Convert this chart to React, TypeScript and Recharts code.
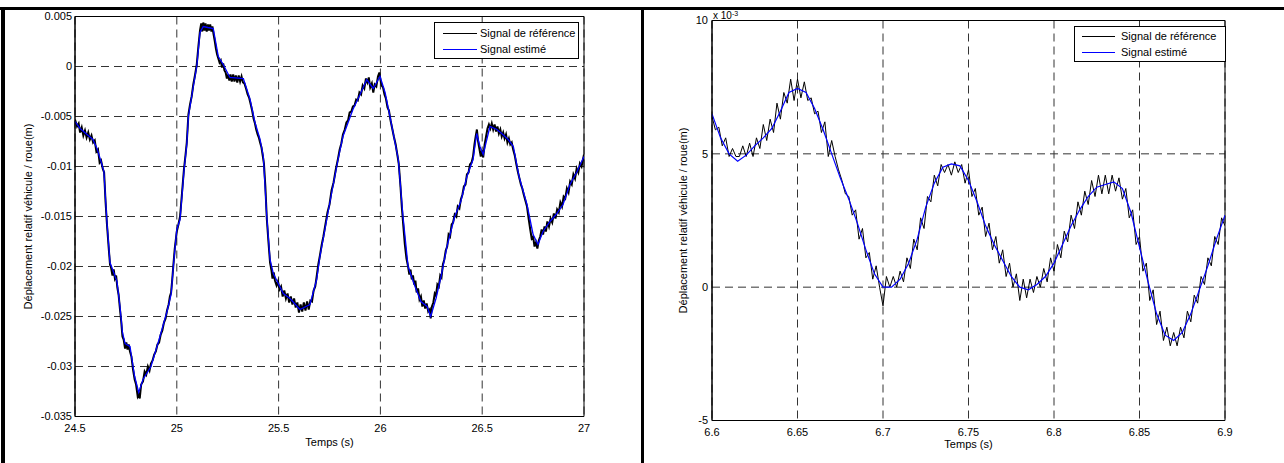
import React from 'react';
import { LineChart, Line, XAxis, YAxis, CartesianGrid, ReferenceArea, Legend } from 'recharts';

const FONT = '"Liberation Sans", Arial, Helvetica, sans-serif';

// axis ticks
const leftXTicks = [24.5, 25, 25.5, 26, 26.5, 27];
const leftYTicks = [-0.035, -0.03, -0.025, -0.02, -0.015, -0.01, -0.005, 0, 0.005];
const rightXTicks = [6.6, 6.65, 6.7, 6.75, 6.8, 6.85, 6.9];
const rightYTicks = [-5, 0, 5, 10];

const seriesNames = ['Signal de référence', 'Signal estimé'];

// left panel: [time (s), displacement (m)]
const leftEstimated: [number, number][] = [
  [24.5, -0.0055], [24.525, -0.0062], [24.559, -0.0068], [24.588, -0.0073], [24.608, -0.0082],
  [24.628, -0.0095], [24.642, -0.0105], [24.657, -0.0156], [24.672, -0.0196], [24.692, -0.0207],
  [24.706, -0.0215], [24.721, -0.024], [24.733, -0.0266], [24.746, -0.0277], [24.77, -0.028],
  [24.793, -0.031], [24.813, -0.0326], [24.834, -0.0313], [24.873, -0.03], [24.913, -0.0273],
  [24.952, -0.0245], [24.972, -0.0228], [24.983, -0.02], [25.0, -0.0163], [25.016, -0.0153],
  [25.035, -0.0105], [25.049, -0.0078], [25.057, -0.005], [25.081, -0.002], [25.098, 0.0],
  [25.114, 0.0034], [25.13, 0.004], [25.153, 0.0039], [25.179, 0.0038], [25.204, 0.001],
  [25.228, 0.0002], [25.261, -0.0011], [25.327, -0.0012], [25.36, -0.0033], [25.384, -0.0056],
  [25.409, -0.0073], [25.425, -0.009], [25.442, -0.015], [25.458, -0.0193], [25.474, -0.0207],
  [25.523, -0.0227], [25.556, -0.0232], [25.605, -0.0243], [25.654, -0.0238], [25.687, -0.0213],
  [25.703, -0.019], [25.748, -0.014], [25.792, -0.0093], [25.816, -0.007], [25.865, -0.0043],
  [25.9, -0.0028], [25.933, -0.0013], [25.965, -0.0022], [25.998, -0.001], [26.023, -0.0026],
  [26.047, -0.005], [26.088, -0.0093], [26.111, -0.015], [26.136, -0.02], [26.17, -0.022],
  [26.199, -0.0235], [26.229, -0.024], [26.247, -0.025], [26.273, -0.0232], [26.298, -0.021],
  [26.327, -0.018], [26.365, -0.015], [26.395, -0.0135], [26.425, -0.011], [26.455, -0.0093],
  [26.473, -0.0067], [26.489, -0.008], [26.505, -0.0088], [26.538, -0.006], [26.572, -0.0063],
  [26.596, -0.0067], [26.628, -0.0073], [26.653, -0.008], [26.681, -0.011], [26.72, -0.0138],
  [26.75, -0.0168], [26.774, -0.0178], [26.799, -0.0165], [26.833, -0.0155], [26.863, -0.0148],
  [26.897, -0.0138], [26.931, -0.0118], [26.966, -0.0105], [27.0, -0.009],
];

const leftReference: [number, number][] = [
  [24.5, -0.0053], [24.51, -0.006], [24.518, -0.0057], [24.525, -0.0066], [24.533, -0.0061],
  [24.541, -0.0069], [24.549, -0.0064], [24.557, -0.0071], [24.565, -0.0066], [24.573, -0.0073],
  [24.581, -0.0069], [24.589, -0.0076], [24.597, -0.0074], [24.605, -0.0085], [24.613, -0.0083],
  [24.621, -0.0096], [24.628, -0.0094], [24.636, -0.0102], [24.643, -0.0106], [24.65, -0.0135],
  [24.657, -0.0158], [24.665, -0.018], [24.672, -0.0198], [24.678, -0.0202], [24.684, -0.0209],
  [24.69, -0.0203], [24.696, -0.0212], [24.702, -0.0209], [24.708, -0.0221], [24.714, -0.0228],
  [24.721, -0.0243], [24.727, -0.0255], [24.733, -0.027], [24.739, -0.0273], [24.746, -0.0282],
  [24.752, -0.0276], [24.758, -0.0283], [24.764, -0.0278], [24.77, -0.0285], [24.777, -0.029],
  [24.785, -0.0303], [24.793, -0.0313], [24.8, -0.0318], [24.808, -0.033], [24.813, -0.0328],
  [24.818, -0.0332], [24.825, -0.0318], [24.834, -0.0315], [24.842, -0.0305], [24.85, -0.0308],
  [24.858, -0.03], [24.866, -0.0304], [24.873, -0.0297], [24.881, -0.0294], [24.889, -0.0288],
  [24.897, -0.0285], [24.905, -0.0278], [24.913, -0.0276], [24.921, -0.0268], [24.929, -0.0264],
  [24.937, -0.0256], [24.945, -0.0252], [24.952, -0.0244], [24.96, -0.0238], [24.966, -0.023],
  [24.972, -0.0226], [24.978, -0.0212], [24.983, -0.0199], [24.99, -0.0182], [25.0, -0.0165],
  [25.008, -0.0158], [25.016, -0.015], [25.025, -0.0128], [25.035, -0.0103], [25.042, -0.009],
  [25.049, -0.0076], [25.057, -0.0048], [25.065, -0.0038], [25.073, -0.003], [25.081, -0.0018],
  [25.09, -0.0008], [25.098, 0.0002], [25.106, 0.002], [25.114, 0.0036], [25.12, 0.0043],
  [25.125, 0.0035], [25.13, 0.0044], [25.136, 0.0036], [25.141, 0.0043], [25.147, 0.0035],
  [25.153, 0.0042], [25.158, 0.0036], [25.164, 0.0042], [25.17, 0.0035], [25.175, 0.004],
  [25.18, 0.0033], [25.186, 0.0026], [25.192, 0.0018], [25.198, 0.0012], [25.204, 0.0008],
  [25.21, 0.0004], [25.216, 0.0006], [25.222, -0.0001], [25.228, 0.0003], [25.234, -0.0004],
  [25.24, -0.0006], [25.246, -0.0012], [25.252, -0.0008], [25.258, -0.0014], [25.264, -0.0008],
  [25.27, -0.0015], [25.277, -0.0008], [25.283, -0.0015], [25.29, -0.0009], [25.297, -0.0016],
  [25.304, -0.0009], [25.311, -0.0015], [25.318, -0.001], [25.325, -0.0016], [25.332, -0.0017],
  [25.34, -0.0022], [25.348, -0.0028], [25.355, -0.0031], [25.362, -0.0037], [25.37, -0.0044],
  [25.377, -0.0052], [25.384, -0.0057], [25.39, -0.0063], [25.397, -0.0068], [25.403, -0.0071],
  [25.409, -0.0076], [25.416, -0.0081], [25.422, -0.0089], [25.428, -0.0097], [25.435, -0.012],
  [25.442, -0.0152], [25.45, -0.0175], [25.458, -0.0196], [25.465, -0.0204], [25.47, -0.0212],
  [25.476, -0.0206], [25.482, -0.0214], [25.49, -0.0219], [25.497, -0.0215], [25.504, -0.0223],
  [25.512, -0.022], [25.52, -0.023], [25.528, -0.0224], [25.536, -0.0232], [25.544, -0.0227],
  [25.552, -0.0236], [25.56, -0.023], [25.568, -0.0238], [25.576, -0.0232], [25.584, -0.0241],
  [25.592, -0.0236], [25.6, -0.0246], [25.608, -0.0238], [25.616, -0.0245], [25.624, -0.0236],
  [25.632, -0.0244], [25.64, -0.0235], [25.648, -0.0243], [25.656, -0.0234], [25.664, -0.0235],
  [25.672, -0.0224], [25.68, -0.022], [25.687, -0.021], [25.695, -0.0198], [25.703, -0.0189],
  [25.712, -0.0178], [25.72, -0.017], [25.73, -0.0158], [25.74, -0.0146], [25.75, -0.0138],
  [25.76, -0.0124], [25.77, -0.0116], [25.78, -0.0104], [25.792, -0.0092], [25.8, -0.0083],
  [25.808, -0.0077], [25.816, -0.0068], [25.825, -0.0063], [25.833, -0.0056], [25.841, -0.0054],
  [25.849, -0.0046], [25.857, -0.0045], [25.865, -0.004], [25.873, -0.0039], [25.881, -0.0033],
  [25.889, -0.0034], [25.897, -0.0026], [25.905, -0.0028], [25.913, -0.0019], [25.921, -0.0022],
  [25.929, -0.0012], [25.936, -0.0016], [25.943, -0.0011], [25.95, -0.0021], [25.958, -0.0017],
  [25.965, -0.0026], [25.972, -0.0018], [25.98, -0.002], [25.988, -0.001], [25.995, -0.0006],
  [26.0, -0.0013], [26.006, -0.0019], [26.013, -0.0021], [26.02, -0.0028], [26.027, -0.0032],
  [26.035, -0.0041], [26.042, -0.0044], [26.05, -0.0054], [26.058, -0.0062], [26.066, -0.007],
  [26.075, -0.0078], [26.083, -0.0088], [26.09, -0.0097], [26.098, -0.0118], [26.105, -0.014],
  [26.112, -0.0158], [26.12, -0.0178], [26.128, -0.0192], [26.136, -0.02], [26.142, -0.0208],
  [26.148, -0.0203], [26.154, -0.0213], [26.16, -0.0209], [26.166, -0.0218], [26.172, -0.0214],
  [26.178, -0.0226], [26.185, -0.0222], [26.192, -0.0233], [26.199, -0.023], [26.206, -0.024],
  [26.213, -0.0234], [26.22, -0.0242], [26.227, -0.0237], [26.235, -0.0245], [26.242, -0.0243],
  [26.247, -0.0252], [26.253, -0.024], [26.26, -0.0236], [26.267, -0.0227], [26.273, -0.0229],
  [26.28, -0.0218], [26.287, -0.022], [26.294, -0.0209], [26.3, -0.0211], [26.307, -0.0198],
  [26.314, -0.0193], [26.321, -0.0184], [26.328, -0.018], [26.335, -0.0168], [26.342, -0.017],
  [26.35, -0.0158], [26.357, -0.0156], [26.365, -0.0148], [26.373, -0.015], [26.38, -0.014],
  [26.388, -0.0142], [26.395, -0.0133], [26.403, -0.0128], [26.41, -0.012], [26.418, -0.0118],
  [26.425, -0.0108], [26.433, -0.0106], [26.44, -0.0098], [26.448, -0.0096], [26.455, -0.009],
  [26.462, -0.0078], [26.468, -0.007], [26.474, -0.0063], [26.48, -0.0075], [26.486, -0.0082],
  [26.493, -0.009], [26.499, -0.0084], [26.505, -0.0091], [26.512, -0.0078], [26.519, -0.007],
  [26.526, -0.0062], [26.533, -0.0058], [26.54, -0.0062], [26.547, -0.0057], [26.554, -0.0063],
  [26.561, -0.0058], [26.568, -0.0065], [26.575, -0.006], [26.582, -0.0067], [26.589, -0.0063],
  [26.596, -0.007], [26.603, -0.0066], [26.61, -0.0072], [26.617, -0.0068], [26.624, -0.0076],
  [26.631, -0.0072], [26.638, -0.0078], [26.645, -0.0076], [26.652, -0.0083], [26.66, -0.0089],
  [26.668, -0.0098], [26.676, -0.0106], [26.683, -0.0112], [26.69, -0.0118], [26.697, -0.0122],
  [26.704, -0.0128], [26.712, -0.0134], [26.72, -0.014], [26.728, -0.0152], [26.736, -0.0163],
  [26.743, -0.0172], [26.75, -0.017], [26.757, -0.018], [26.764, -0.0176], [26.771, -0.0182],
  [26.778, -0.0174], [26.785, -0.017], [26.792, -0.0163], [26.799, -0.0168], [26.806, -0.016],
  [26.813, -0.0165], [26.82, -0.0155], [26.828, -0.016], [26.836, -0.0152], [26.844, -0.0156],
  [26.852, -0.0147], [26.86, -0.0152], [26.868, -0.0143], [26.876, -0.0146], [26.884, -0.0136],
  [26.892, -0.014], [26.9, -0.013], [26.908, -0.0132], [26.916, -0.0122], [26.924, -0.0126],
  [26.932, -0.0115], [26.94, -0.0118], [26.948, -0.0108], [26.956, -0.0112], [26.964, -0.0102],
  [26.972, -0.0106], [26.98, -0.0097], [26.988, -0.01], [27.0, -0.0088],
];

// right panel: values in units of 1e-3 m, sampled on a regular clock
const rightRefStart = 6.6;
const rightRefStep = 0.002;
const rightReference = [
  6.4, 5.9, 6.0, 5.3, 5.6, 4.9, 5.2, 4.9, 4.9, 5.3,
  4.9, 5.4, 4.9, 5.6, 5.2, 6.1, 5.5, 6.3, 5.8, 6.9,
  6.3, 7.3, 6.9, 7.8, 7.0, 7.8, 7.1, 7.7, 7.0, 7.1,
  6.5, 6.6, 5.8, 6.2, 4.9, 5.5, 4.9, 4.4, 4.0, 3.5,
  3.4, 2.7, 2.9, 1.8, 2.2, 1.1, 1.3, 0.3, 0.8, 0.0,
  -0.7, 0.4, 0.0, 0.4, 0.0, 0.6, 0.2, 1.1, 0.7, 1.8,
  1.4, 2.6, 2.2, 3.4, 3.2, 4.2, 3.8, 4.6, 4.3, 4.6,
  4.2, 4.7, 4.3, 4.6, 3.9, 4.4, 3.4, 3.7, 2.7, 3.0,
  1.9, 2.4, 1.4, 1.9, 0.9, 1.4, 0.4, 0.9, 0.0, 0.5,
  -0.5, 0.3, -0.4, 0.3, -0.2, 0.4, 0.0, 0.7, 0.2, 1.1,
  0.6, 1.6, 1.1, 2.1, 1.7, 2.7, 2.2, 3.2, 2.7, 3.6,
  3.1, 4.0, 3.4, 4.2, 3.5, 4.2, 3.5, 4.2, 3.6, 4.1,
  3.3, 3.7, 2.6, 2.9, 1.6, 1.9, 0.6, 0.9, -0.5, -0.1,
  -1.4, -0.9, -2.0, -1.5, -2.2, -1.7, -2.2, -1.5, -1.9, -0.9,
  -1.3, -0.3, -0.6, 0.4, 0.1, 1.1, 0.8, 1.9, 1.6, 2.6,
  2.3,
];

const rightEstStart = 6.6;
const rightEstStep = 0.005;
const rightEstimated = [
  6.5, 5.6, 5.0, 4.72, 4.95, 5.3, 5.6, 5.95, 6.6, 7.3,
  7.45, 7.3, 6.7, 5.9, 5.0, 4.1, 3.3, 2.4, 1.4, 0.5,
  0.0, 0.0, 0.3, 0.9, 1.8, 3.0, 3.9, 4.5, 4.62, 4.55,
  4.0, 3.2, 2.3, 1.6, 1.0, 0.4, 0.0, -0.1, 0.1, 0.4,
  0.9, 1.6, 2.3, 2.9, 3.4, 3.75, 3.85, 3.95, 3.7, 2.8,
  1.5, 0.2, -1.0, -1.8, -2.0, -1.7, -1.0, -0.1, 0.8, 1.8,
  2.7,
];

const toPoints = (pairs: [number, number][]) => pairs.map(([t, v]) => ({ t, v }));
const sampled = (start: number, step: number, values: number[]) =>
  values.map((v, i) => ({ t: +(start + i * step).toFixed(4), v }));

const leftRefData = toPoints(leftReference);
const leftEstData = toPoints(leftEstimated);
const rightRefData = sampled(rightRefStart, rightRefStep, rightReference);
const rightEstData = sampled(rightEstStart, rightEstStep, rightEstimated);

const tickStyle = { fill: '#000', fontSize: 11, fontFamily: FONT };
const labelStyle = { fill: '#000', fontSize: 11, fontFamily: FONT, textAnchor: 'middle' as const };

function LegendBox(props: any) {
  const { payload = [], width, height, rowTop, rowGap, lineLeft, lineWidth, textLeft } = props;
  return (
    <div
      style={{
        position: 'relative',
        width,
        height,
        boxSizing: 'border-box',
        border: '1px solid #000',
        background: '#fff',
        fontFamily: FONT,
        fontSize: 11,
        color: '#000',
      }}
    >
      {payload.map((item: any, i: number) => (
        <div key={item.value}>
          <div
            style={{
              position: 'absolute',
              left: lineLeft,
              top: rowTop + i * rowGap - 1,
              width: lineWidth,
              height: 1,
              background: item.color,
            }}
          />
          <div
            style={{
              position: 'absolute',
              left: textLeft,
              top: rowTop + i * rowGap - 7,
              lineHeight: '13px',
              whiteSpace: 'nowrap',
            }}
          >
            {item.value}
          </div>
        </div>
      ))}
    </div>
  );
}

function LeftPanel() {
  return (
    <LineChart width={640} height={463} margin={{ top: 16.5, right: 56, bottom: 16.5, left: 15 }}>
      <CartesianGrid stroke="#333" strokeDasharray="8 5" />
      <XAxis
        dataKey="t"
        type="number"
        domain={[24.5, 27]}
        ticks={leftXTicks}
        interval={0}
        allowDataOverflow
        height={30}
        stroke="#000"
        tickLine={false}
        tickSize={0}
        tickMargin={8}
        tick={tickStyle}
        label={{ value: 'Temps (s)', position: 'insideBottom', offset: 1, style: labelStyle }}
      />
      <YAxis
        type="number"
        domain={[-0.035, 0.005]}
        ticks={leftYTicks}
        interval={0}
        allowDataOverflow
        width={60}
        stroke="#000"
        tickLine={false}
        tickSize={0}
        tickMargin={3}
        tick={tickStyle}
        label={{
          value: 'Déplacement relatif véhicule / roue(m)',
          angle: -90,
          position: 'insideLeft',
          offset: 13,
          style: labelStyle,
        }}
      />
      <ReferenceArea x1={24.5} x2={27} y1={-0.035} y2={0.005} fill="none" stroke="#000" strokeWidth={1} />
      <Line
        data={leftRefData}
        dataKey="v"
        name={seriesNames[0]}
        stroke="#000"
        strokeWidth={2}
        dot={false}
        activeDot={false}
        type="linear"
        isAnimationActive={false}
      />
      <Line
        data={leftEstData}
        dataKey="v"
        name={seriesNames[1]}
        stroke="#0000ff"
        strokeWidth={1.3}
        dot={false}
        activeDot={false}
        type="linear"
        isAnimationActive={false}
      />
      <Legend
        layout="vertical"
        align="center"
        verticalAlign="middle"
        wrapperStyle={{ left: 434, top: 22, width: 145, height: 37 }}
        content={(p: any) => (
          <LegendBox {...p} width={145} height={37} rowTop={11} rowGap={16} lineLeft={8} lineWidth={34} textLeft={45} />
        )}
      />
    </LineChart>
  );
}

function RightPanel() {
  return (
    <LineChart width={644} height={463} margin={{ top: 20.5, right: 59, bottom: 12.5, left: 22 }}>
      <CartesianGrid stroke="#333" strokeDasharray="8 5" />
      <XAxis
        dataKey="t"
        type="number"
        domain={[6.6, 6.9]}
        ticks={rightXTicks}
        interval={0}
        allowDataOverflow
        height={30}
        stroke="#000"
        tickLine={false}
        tickSize={0}
        tickMargin={8}
        tick={tickStyle}
        label={{ value: 'Temps (s)', position: 'insideBottom', offset: 2.5, style: labelStyle }}
      />
      <YAxis
        type="number"
        domain={[-5, 10]}
        ticks={rightYTicks}
        interval={0}
        allowDataOverflow
        width={50}
        stroke="#000"
        tickLine={false}
        tickSize={0}
        tickMargin={4}
        tick={tickStyle}
        label={{
          value: 'Déplacement relatif véhicule / roue(m)',
          angle: -90,
          position: 'insideLeft',
          offset: 21,
          style: labelStyle,
        }}
      />
      <ReferenceArea x1={6.6} x2={6.9} y1={-5} y2={10} fill="none" stroke="#000" strokeWidth={1} />
      <Line
        data={rightRefData}
        dataKey="v"
        name={seriesNames[0]}
        stroke="#000"
        strokeWidth={1}
        dot={false}
        activeDot={false}
        type="linear"
        isAnimationActive={false}
      />
      <Line
        data={rightEstData}
        dataKey="v"
        name={seriesNames[1]}
        stroke="#0000ff"
        strokeWidth={1.2}
        dot={false}
        activeDot={false}
        type="linear"
        isAnimationActive={false}
      />
      <Legend
        layout="vertical"
        align="center"
        verticalAlign="middle"
        wrapperStyle={{ left: 434, top: 26, width: 152, height: 36 }}
        content={(p: any) => (
          <LegendBox {...p} width={152} height={36} rowTop={10} rowGap={16} lineLeft={7} lineWidth={33} textLeft={46} />
        )}
      />
    </LineChart>
  );
}

export default function App() {
  return (
    <div
      style={{
        position: 'absolute',
        left: 0,
        top: 0,
        width: 1284,
        height: 463,
        background: '#fff',
        overflow: 'hidden',
        fontFamily: FONT,
      }}
    >
      <div style={{ position: 'absolute', left: 5, top: 10, width: 636, height: 453, overflow: 'hidden' }}>
        <div style={{ position: 'absolute', left: -5, top: -10 }}>
          <LeftPanel />
        </div>
      </div>
      <div style={{ position: 'absolute', left: 644, top: 10, width: 640, height: 453, overflow: 'hidden' }}>
        <div style={{ position: 'absolute', left: -4, top: -10 }}>
          <RightPanel />
        </div>
        {/* axis multiplier */}
        <div style={{ position: 'absolute', left: 69, top: 1, fontSize: 10, lineHeight: '10px', whiteSpace: 'nowrap' }}>
          x 10<sup style={{ fontSize: 7, verticalAlign: 'top', position: 'relative', top: -2 }}>-3</sup>
        </div>
      </div>
      {/* table borders */}
      <div style={{ position: 'absolute', left: 0, top: 7, width: 1284, height: 3, background: '#000' }} />
      <div style={{ position: 'absolute', left: 1, top: 7, width: 4, height: 456, background: '#000' }} />
      <div style={{ position: 'absolute', left: 641, top: 7, width: 3, height: 456, background: '#000' }} />
    </div>
  );
}
